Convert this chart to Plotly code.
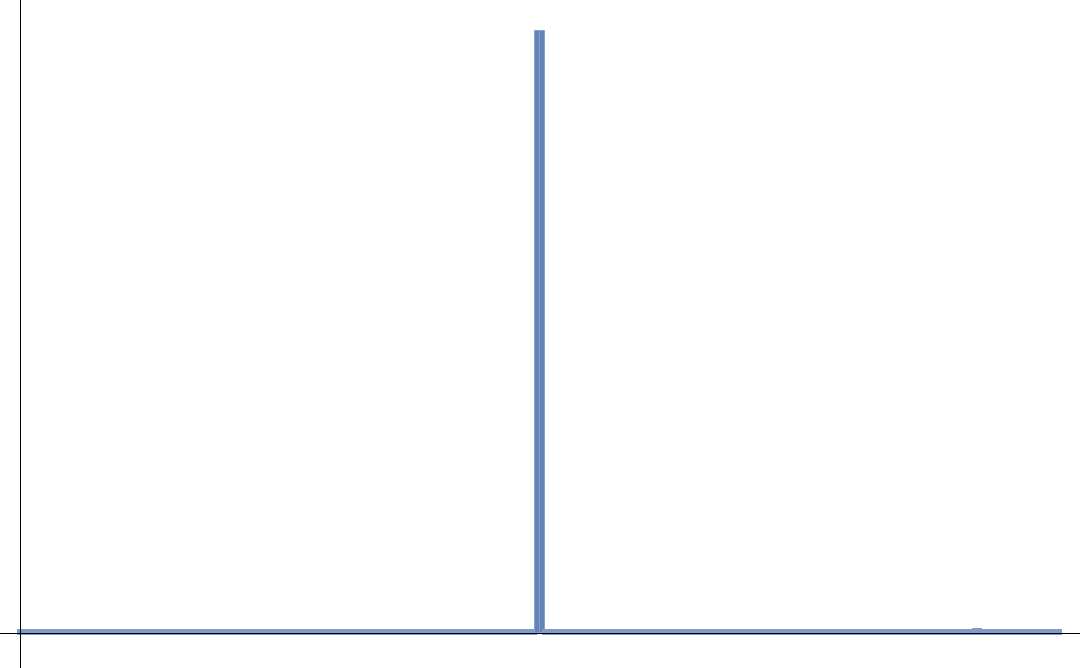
import plotly.graph_objects as go

# histogram counts, one per unit-wide bin starting at 0
counts = [
    2, 2, 2, 2, 2, 2, 2, 2, 2, 2, 2, 2, 2, 2, 2, 2, 2, 2, 2, 2,
    2, 2, 2, 2, 2, 2, 2, 2, 2, 2, 2, 2, 2, 2, 2, 2, 2, 2, 2, 2,
    2, 2, 2, 2, 2, 2, 2, 2, 2, 2, 2, 2, 2, 2, 2, 2, 2, 2, 2, 2,
    2, 2, 2, 2, 2, 2, 2, 2, 2, 2, 2, 2, 2, 2, 2, 2, 2, 2, 2, 2,
    2, 2, 2, 2, 2, 2, 2, 2, 2, 2, 2, 2, 2, 2, 2, 2, 2, 2, 2, 2,
    2, 2, 2,
    1000, 1000,
    2, 2, 2, 2, 2, 2, 2, 2, 2, 2, 2, 2, 2, 2, 2, 2, 2, 2, 2, 2,
    2, 2, 2, 2, 2, 2, 2, 2, 2, 2, 2, 2, 2, 2, 2, 2, 2, 2, 2, 2,
    2, 2, 2, 2, 2, 2, 2, 2, 2, 2, 2, 2, 2, 2, 2, 2, 2, 2, 2, 2,
    2, 2, 2, 2, 2, 2, 2, 2, 2, 2, 2, 2, 2, 2, 2, 2, 2, 2, 2, 2,
    2, 2, 2, 2, 2, 2,
    3,
    2, 2, 2, 2, 2, 2, 2, 2, 2, 2, 2, 2, 2, 2, 2, 2,
]
bin_start = 0
bin_width = 1
centers = [bin_start + (i + 0.5) * bin_width for i in range(len(counts))]

# tall bins get a thin edge, the near-empty ones a thick one so they show
edge_widths = [1 if c > 100 else 5 for c in counts]
edge_colors = ["#84a0cc" if c > 100 else "#7f9bcb" for c in counts]

fig = go.Figure()
fig.add_trace(go.Bar(
    x=centers,
    y=counts,
    width=bin_width,
    marker=dict(color="#6383b9", line=dict(color=edge_colors, width=edge_widths)),
    showlegend=False,
    hoverinfo="x+y",
))

fig.update_layout(
    width=1080,
    height=668,
    margin=dict(l=0, r=0, t=0, b=0),
    paper_bgcolor="white",
    plot_bgcolor="white",
    bargap=0,
    xaxis=dict(range=[-4, 212], showgrid=False, showticklabels=False, ticks="",
               zeroline=True, zerolinecolor="black", zerolinewidth=1),
    yaxis=dict(range=[-58.1, 1051.5], showgrid=False, showticklabels=False, ticks="",
               zeroline=True, zerolinecolor="black", zerolinewidth=1),
)
try:
    fig.update_xaxes(zerolinelayer="above traces")
    fig.update_yaxes(zerolinelayer="above traces")
except Exception:
    pass

fig.write_html("out.html", config={"displayModeBar": False},
               post_script="document.body.style.margin='0';")
